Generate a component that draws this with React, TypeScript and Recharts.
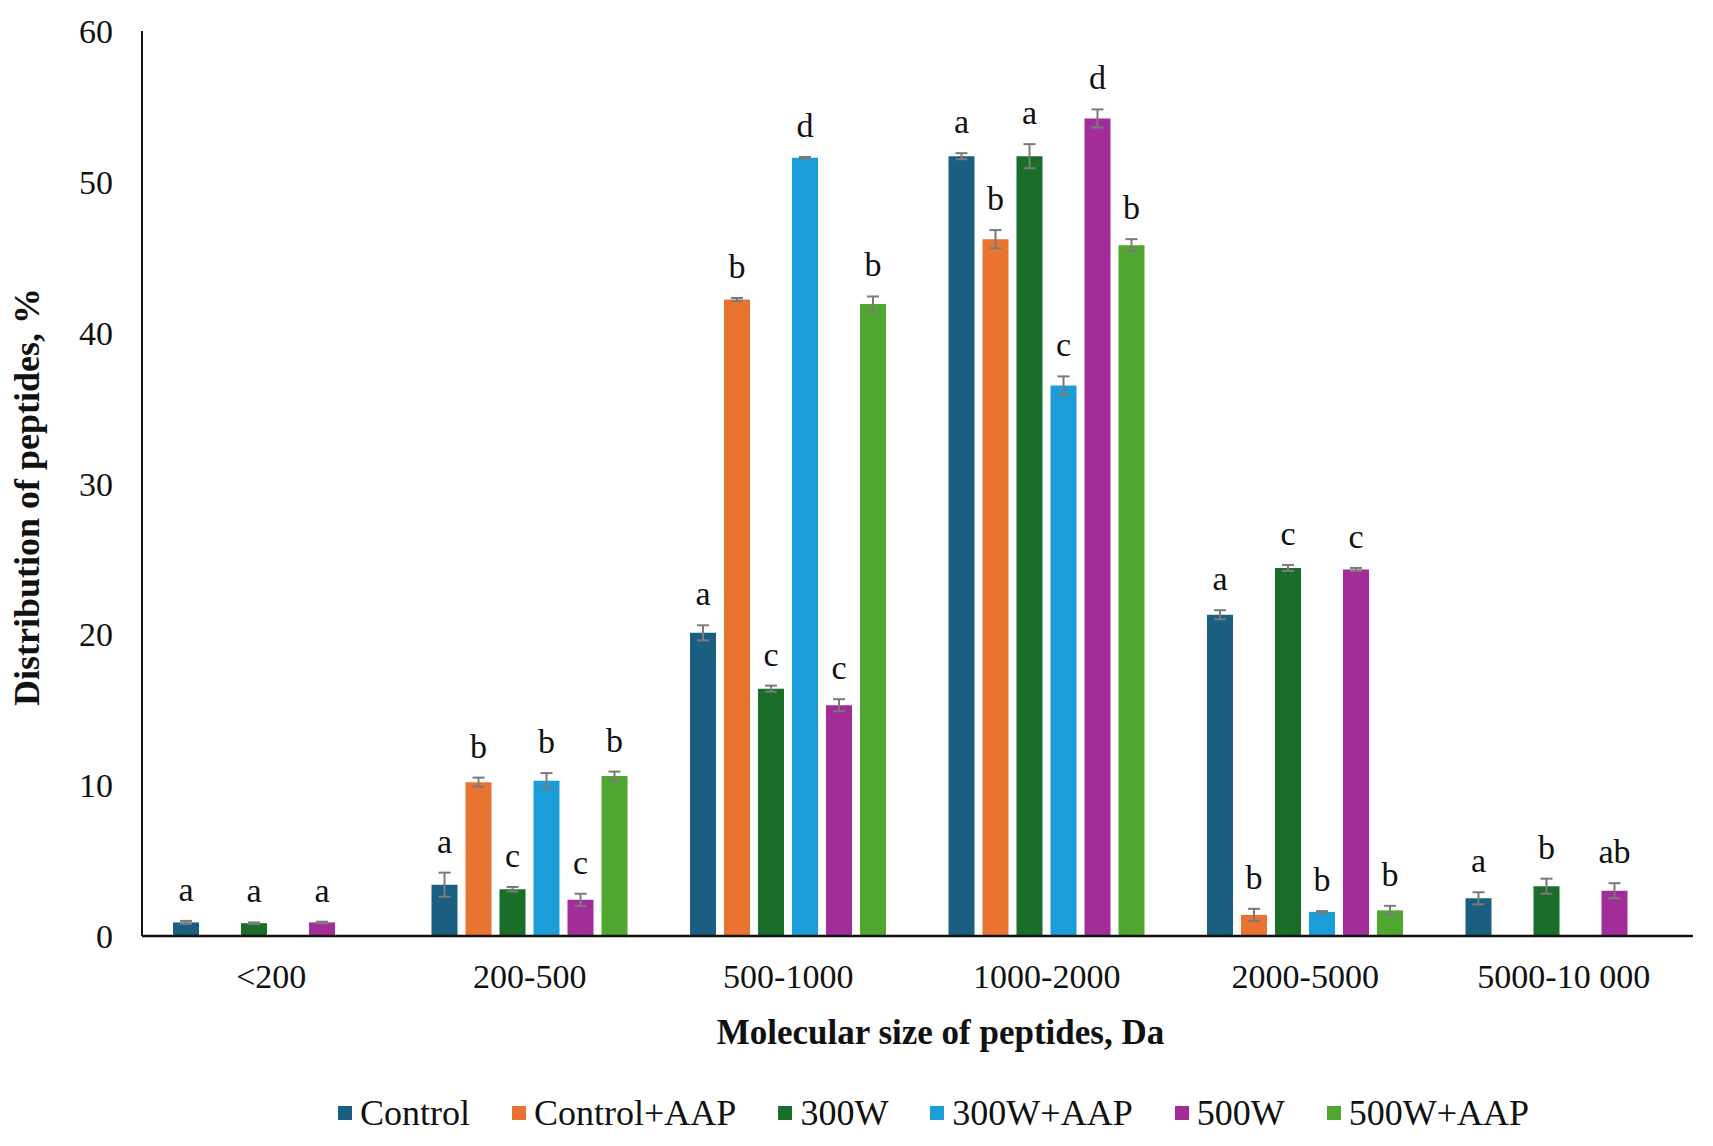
import { BarChart, Bar, XAxis, YAxis, ErrorBar, LabelList, Legend } from 'recharts'

const categories = ['<200', '200-500', '500-1000', '1000-2000', '2000-5000', '5000-10 000']

const control = [0.9, 3.4, 20.1, 51.7, 21.3, 2.5]
const controlErr = [0.1, 0.8, 0.5, 0.2, 0.3, 0.4]
const controlLetters = ['a', 'a', 'a', 'a', 'a', 'a']

const controlAap = [null, 10.2, 42.2, 46.2, 1.4, null]
const controlAapErr = [null, 0.3, 0.1, 0.6, 0.4, null]
const controlAapLetters = [null, 'b', 'b', 'b', 'b', null]

const w300 = [0.85, 3.1, 16.4, 51.7, 24.4, 3.3]
const w300Err = [0.05, 0.15, 0.2, 0.8, 0.2, 0.5]
const w300Letters = ['a', 'c', 'c', 'a', 'c', 'b']

const w300Aap = [null, 10.3, 51.6, 36.5, 1.6, null]
const w300AapErr = [null, 0.5, 0.05, 0.6, 0.05, null]
const w300AapLetters = [null, 'b', 'd', 'c', 'b', null]

const w500 = [0.9, 2.4, 15.3, 54.2, 24.3, 3.0]
const w500Err = [0.05, 0.4, 0.4, 0.6, 0.1, 0.5]
const w500Letters = ['a', 'c', 'c', 'd', 'c', 'ab']

const w500Aap = [null, 10.6, 41.9, 45.8, 1.7, null]
const w500AapErr = [null, 0.3, 0.5, 0.4, 0.3, null]
const w500AapLetters = [null, 'b', 'b', 'b', 'b', null]

const yTicks = [0, 10, 20, 30, 40, 50, 60]

const SERIES = [
  { key: 's0', name: 'Control', color: '#1a5f82', values: control, err: controlErr, letters: controlLetters },
  { key: 's1', name: 'Control+AAP', color: '#e97432', values: controlAap, err: controlAapErr, letters: controlAapLetters },
  { key: 's2', name: '300W', color: '#1b6d2a', values: w300, err: w300Err, letters: w300Letters },
  { key: 's3', name: '300W+AAP', color: '#1b9dd9', values: w300Aap, err: w300AapErr, letters: w300AapLetters },
  { key: 's4', name: '500W', color: '#a22d98', values: w500, err: w500Err, letters: w500Letters },
  { key: 's5', name: '500W+AAP', color: '#4fa72f', values: w500Aap, err: w500AapErr, letters: w500AapLetters },
]

const data = categories.map((cat, i) => {
  const row: Record<string, string | number | null> = { cat }
  SERIES.forEach((s) => {
    row[s.key] = s.values[i]
    row[s.key + 'e'] = s.err[i]
    row[s.key + 'l'] = s.letters[i]
  })
  return row
})

const FONT = '"Liberation Serif", "Times New Roman", serif'

// label value carries "letter|err|value" so the letter sits above the error bar
function letterLabel(p: any) {
  const { x, y, width, height, value } = p
  if (!value) return null
  const [letter, errS, valS] = String(value).split('|')
  const v = Number(valS)
  if (!letter || !v) return null
  const perUnit = height / v
  const top = y - Number(errS || 0) * perUnit
  return (
    <text x={x + width / 2} y={top - 20} textAnchor="middle" fontSize={34} fontFamily={FONT} fill="#111">
      {letter}
    </text>
  )
}

function LegendBox() {
  return (
    <div
      style={{
        display: 'flex',
        justifyContent: 'center',
        alignItems: 'center',
        gap: 42,
        fontFamily: FONT,
        fontSize: 36,
        color: '#111',
        paddingLeft: 154,
      }}
    >
      {SERIES.map((s) => (
        <div key={s.key} style={{ display: 'flex', alignItems: 'center' }}>
          <span style={{ width: 14, height: 14, background: s.color, marginRight: 8, display: 'inline-block' }} />
          <span>{s.name}</span>
        </div>
      ))}
    </div>
  )
}

export default function App() {
  return (
    <div style={{ position: 'absolute', left: 0, top: 0, width: 1713, height: 1146, background: '#fff' }}>
      <BarChart
        width={1713}
        height={1146}
        data={data}
        margin={{ top: 31, right: 20, left: 0, bottom: 150 }}
        barSize={26}
        barGap={8}
      >
        <XAxis
          dataKey="cat"
          height={60}
          axisLine={{ stroke: '#111', strokeWidth: 2.5 }}
          tickLine={false}
          tickSize={0}
          tickMargin={28}
          tick={{ fontSize: 34, fontFamily: FONT, fill: '#111' }}
          label={{
            content: (p: any) => (
              <text
                x={p.viewBox.x + p.viewBox.width / 2 + 23}
                y={p.viewBox.y + 108}
                textAnchor="middle"
                fontSize={35}
                fontWeight="bold"
                fontFamily={FONT}
                fill="#111"
              >
                Molecular size of peptides, Da
              </text>
            ),
          }}
        />
        <YAxis
          width={142}
          domain={[0, 60]}
          ticks={yTicks}
          interval={0}
          axisLine={{ stroke: '#111', strokeWidth: 2 }}
          tickLine={false}
          tickSize={0}
          tickMargin={29}
          tick={{ fontSize: 34, fontFamily: FONT, fill: '#111' }}
          label={{
            content: () => (
              <text
                x={27}
                y={497}
                transform="rotate(-90, 27, 497)"
                textAnchor="middle"
                dominantBaseline="central"
                fontSize={36}
                fontWeight="bold"
                fontFamily={FONT}
                fill="#111"
              >
                Distribution of peptides,  %
              </text>
            ),
          }}
        />
        <Legend
          layout="horizontal"
          verticalAlign="middle"
          align="center"
          content={() => <LegendBox />}
          wrapperStyle={{ top: 1092, left: 0, width: 1713 }}
        />
        {SERIES.map((s) => (
          <Bar key={s.key} dataKey={s.key} name={s.name} fill={s.color} isAnimationActive={false}>
            <ErrorBar dataKey={s.key + 'e'} width={6} stroke="#7a7a7a" strokeWidth={2} />
            <LabelList
              dataKey={(row: any) =>
                row[s.key] == null ? '' : `${row[s.key + 'l'] ?? ''}|${row[s.key + 'e'] ?? 0}|${row[s.key]}`
              }
              content={letterLabel}
            />
          </Bar>
        ))}
      </BarChart>
    </div>
  )
}
